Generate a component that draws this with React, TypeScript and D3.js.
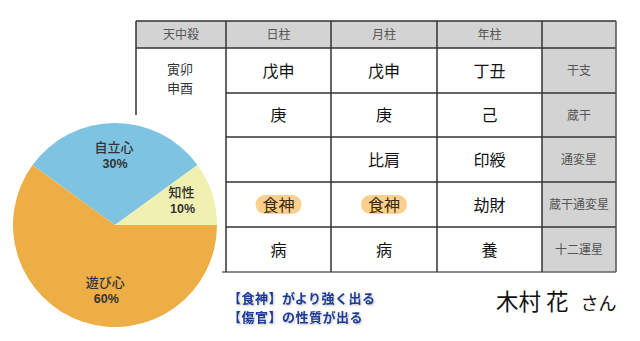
import React from "react";
import * as d3 from "d3";

const pieNames = ["自立心", "知性", "遊び心"];
const pieValues = [30, 10, 60];
const pieColors = ["#7EC4E2", "#F0F1B1", "#EDAE46"];

const headers = ["天中殺", "日柱", "月柱", "年柱", ""];
const rowLabels = ["干支", "蔵干", "通変星", "蔵干通変星", "十二運星"];
const dayCol = ["戊申", "庚", "", "食神", "病"];
const monthCol = ["戊申", "庚", "比肩", "食神", "病"];
const yearCol = ["丁丑", "己", "印綬", "劫財", "養"];
const highlighted = ["食神"];
const tenchusatsu = ["寅卯", "申酉"];
const notes = ["【食神】がより強く出る", "【傷官】の性質が出る"];
const personName = "木村 花";
const honorific = "さん";

const W = 640;
const H = 341;
const colEdges = [136, 226, 331, 437, 542, 616];
const rowEdges = [21, 48, 93, 137, 182, 227, 272];
const FONT = "'Noto Sans CJK JP', 'Noto Sans', sans-serif";
const NUMFONT = "'Liberation Sans', 'DejaVu Sans', sans-serif";

export default function App() {
  const cx = 115, cy = 225, r = 102;
  const pie = d3
    .pie<number>()
    .sort(null)
    .startAngle(-0.3 * Math.PI)
    .endAngle(1.7 * Math.PI);
  const arcs = pie(pieValues);
  const arc = d3.arc<d3.PieArcDatum<number>>().innerRadius(0).outerRadius(r);
  const labelArc = d3.arc<d3.PieArcDatum<number>>().innerRadius(70).outerRadius(70);
  const labelShift: Record<string, [number, number]> = {
    自立心: [-1, 0],
    知性: [0, -3],
    遊び心: [12, -2],
  };

  const cols = [dayCol, monthCol, yearCol];
  const lineColor = "#333";

  return (
    <svg width={W} height={H} style={{ position: "absolute", left: 0, top: 0, background: "#fff" }}>
      {/* header background */}
      <rect x={colEdges[0]} y={rowEdges[0]} width={colEdges[5] - colEdges[0]} height={rowEdges[1] - rowEdges[0]} fill="#D3D3D3" />
      {/* right column background */}
      <rect x={colEdges[4]} y={rowEdges[1]} width={colEdges[5] - colEdges[4]} height={rowEdges[6] - rowEdges[1]} fill="#D3D3D3" />

      {/* pill highlights */}
      {cols.map((col, ci) =>
        col.map((v, ri) =>
          highlighted.includes(v) ? (
            <rect
              key={`p${ci}-${ri}`}
              x={(colEdges[ci + 1] + colEdges[ci + 2]) / 2 - 23}
              y={(rowEdges[ri + 1] + rowEdges[ri + 2]) / 2 - 9.5}
              width={46}
              height={19}
              rx={9.5}
              fill="#FBCF8E"
            />
          ) : null
        )
      )}

      {/* lines */}
      <g stroke={lineColor} strokeWidth={1.5} fill="none">
        <line x1={colEdges[0]} y1={rowEdges[0]} x2={colEdges[5]} y2={rowEdges[0]} />
        <line x1={colEdges[0]} y1={rowEdges[1]} x2={colEdges[5]} y2={rowEdges[1]} />
        <line x1={colEdges[0]} y1={rowEdges[0]} x2={colEdges[0]} y2={115} />
        {rowEdges.slice(2, 6).map((y, i) => (
          <line key={`h${i}`} x1={colEdges[1]} y1={y} x2={colEdges[5]} y2={y} />
        ))}
        <line x1={222} y1={rowEdges[6]} x2={colEdges[5]} y2={rowEdges[6]} stroke="#666" />
        {colEdges.slice(1).map((x, i) => (
          <line key={`v${i}`} x1={x} y1={rowEdges[0]} x2={x} y2={rowEdges[6]} stroke={i === 4 ? "#555" : lineColor} />
        ))}
      </g>

      {/* headers */}
      {headers.map((h, i) => (
        <text
          key={`hd${i}`}
          x={(colEdges[i] + colEdges[i + 1]) / 2}
          y={(rowEdges[0] + rowEdges[1]) / 2 + 4.5}
          textAnchor="middle"
          fontSize={12}
          fill="#555"
          fontFamily={FONT}
        >
          {h}
        </text>
      ))}

      {/* tenchusatsu */}
      {tenchusatsu.map((t, i) => (
        <text key={`t${i}`} x={180} y={74 + i * 19} textAnchor="middle" fontSize={13} fill="#333" fontFamily={FONT}>
          {t}
        </text>
      ))}

      {/* body cells */}
      {cols.map((col, ci) =>
        col.map((v, ri) => (
          <text
            key={`c${ci}-${ri}`}
            x={(colEdges[ci + 1] + colEdges[ci + 2]) / 2}
            y={(rowEdges[ri + 1] + rowEdges[ri + 2]) / 2 + 6}
            textAnchor="middle"
            fontSize={16}
            fill={highlighted.includes(v) ? "#3a2a10" : "#111"}
            fontFamily={FONT}
          >
            {v}
          </text>
        ))
      )}

      {/* row labels */}
      {rowLabels.map((l, i) => (
        <text
          key={`rl${i}`}
          x={(colEdges[4] + colEdges[5]) / 2}
          y={(rowEdges[i + 1] + rowEdges[i + 2]) / 2 + 4.5}
          textAnchor="middle"
          fontSize={12}
          fill="#555"
          fontFamily={FONT}
        >
          {l}
        </text>
      ))}

      {/* pie */}
      <g transform={`translate(${cx},${cy})`}>
        {arcs.map((a, i) => (
          <path key={`a${i}`} d={arc(a) || ""} fill={pieColors[i]} />
        ))}
        {arcs.map((a, i) => {
          const [lx, ly] = labelArc.centroid(a);
          const [dx, dy] = labelShift[pieNames[i]];
          return (
            <g key={`l${i}`} transform={`translate(${lx + dx},${ly + dy})`} fill="#333">
              <text x={0} y={-3} textAnchor="middle" fontSize={13} fontFamily={FONT} fontWeight={500}>
                {pieNames[i]}
              </text>
              <text x={1} y={13} textAnchor="middle" fontSize={12.5} fontFamily={NUMFONT} fontWeight={700}>
                {pieValues[i]}%
              </text>
            </g>
          );
        })}
      </g>

      {/* notes */}
      {notes.map((n, i) => (
        <text
          key={`n${i}`}
          x={228}
          y={303 + i * 19}
          fontSize={13}
          letterSpacing={0.5}
          fontWeight={700}
          fill="#1C3C9A"
          fontFamily={FONT}
          style={{ filter: "drop-shadow(1px 1px 1px rgba(0,0,0,0.25))" }}
        >
          {n}
        </text>
      ))}

      {/* name */}
      <text x={496} y={310} fontFamily={FONT} fill="#111">
        <tspan fontSize={22.5}>{personName}</tspan>
        <tspan fontSize={18} dx={12}>{honorific}</tspan>
      </text>
    </svg>
  );
}
